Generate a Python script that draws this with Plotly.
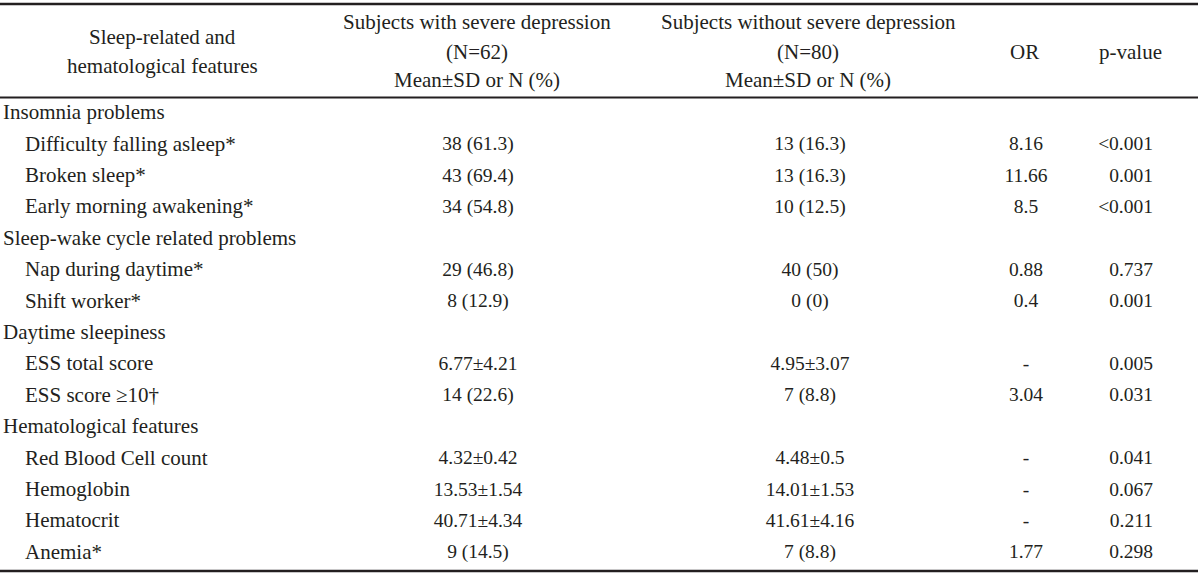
import plotly.graph_objects as go

labels = ["Insomnia problems", "Difficulty falling asleep*", "Broken sleep*", "Early morning awakening*",
          "Sleep-wake cycle related problems", "Nap during daytime*", "Shift worker*",
          "Daytime sleepiness", "ESS total score", "ESS score \u226510\u2020",
          "Hematological features", "Red Blood Cell count", "Hemoglobin", "Hematocrit", "Anemia*"]
is_section = [1, 0, 0, 0, 1, 0, 0, 1, 0, 0, 1, 0, 0, 0, 0]
with_dep = ["", "38 (61.3)", "43 (69.4)", "34 (54.8)", "", "29 (46.8)", "8 (12.9)", "",
            "6.77\u00b14.21", "14 (22.6)", "", "4.32\u00b10.42", "13.53\u00b11.54", "40.71\u00b14.34", "9 (14.5)"]
without_dep = ["", "13 (16.3)", "13 (16.3)", "10 (12.5)", "", "40 (50)", "0 (0)", "",
               "4.95\u00b13.07", "7 (8.8)", "", "4.48\u00b10.5", "14.01\u00b11.53", "41.61\u00b14.16", "7 (8.8)"]
odds_ratio = ["", "8.16", "11.66", "8.5", "", "0.88", "0.4", "", "-", "3.04", "", "-", "-", "-", "1.77"]
p_values = ["", "<0.001", "0.001", "<0.001", "", "0.737", "0.001", "", "0.005", "0.031", "",
            "0.041", "0.067", "0.211", "0.298"]
header_col1 = ["Sleep-related and", "hematological features"]
header_col2 = ["Subjects with severe depression", "(N=62)", "Mean\u00b1SD or N (%)"]
header_col3 = ["Subjects without severe depression", "(N=80)", "Mean\u00b1SD or N (%)"]
header_col4 = "OR"
header_col5 = "p-value"

FONT = "Liberation Serif"
FS_TEXT = 21
FS_NUM = 19.5
COLOR = "#231f20"

W, H = 1200, 576
row0, row_h = 114, 31.4
rows_y = [row0 + row_h * i for i in range(len(labels))]

fig = go.Figure()

# label column
fig.add_trace(go.Scatter(
    x=[3 if s else 25 for s in is_section], y=rows_y, text=labels, mode="text",
    textposition="middle right", textfont=dict(family=FONT, size=FS_TEXT, color=COLOR),
    hoverinfo="skip", showlegend=False))
# centered columns
for xc, vals in [(478, with_dep), (810, without_dep), (1026, odds_ratio)]:
    fig.add_trace(go.Scatter(
        x=[xc] * len(vals), y=rows_y, text=vals, mode="text",
        textposition="middle center", textfont=dict(family=FONT, size=FS_NUM, color=COLOR),
        hoverinfo="skip", showlegend=False))
# p-value column (right aligned)
fig.add_trace(go.Scatter(
    x=[1153] * len(p_values), y=rows_y, text=p_values, mode="text",
    textposition="middle left", textfont=dict(family=FONT, size=FS_NUM, color=COLOR),
    hoverinfo="skip", showlegend=False))

annots = []
def ann(x, y, t):
    annots.append(dict(x=x, y=y, xref="x", yref="y", text=t, showarrow=False,
                       xanchor="center", yanchor="middle",
                       font=dict(family=FONT, size=FS_TEXT, color=COLOR)))
for t, y in zip(header_col1, [37, 66]):
    ann(162, y, t)
for t, y in zip(header_col2, [22, 52, 80]):
    ann(477, y, t)
for t, y in zip(header_col3, [22, 52, 80]):
    ann(808, y, t)
ann(1024, 52, header_col4)
ann(1130, 52, header_col5)

shapes = []
for y, w in [(4, 2.4), (97.5, 2), (571, 2.4)]:
    shapes.append(dict(type="line", xref="x", yref="y", x0=0, x1=1198, y0=y, y1=y,
                       line=dict(color=COLOR, width=w)))

fig.update_layout(
    width=W, height=H, margin=dict(l=0, r=0, t=0, b=0),
    paper_bgcolor="white", plot_bgcolor="white",
    xaxis=dict(range=[0, W], visible=False, fixedrange=True),
    yaxis=dict(range=[H, 0], visible=False, fixedrange=True),
    annotations=annots, shapes=shapes,
)
fig.write_html("out.html", config={"displayModeBar": False},
               post_script="document.body.style.margin='0px';")
